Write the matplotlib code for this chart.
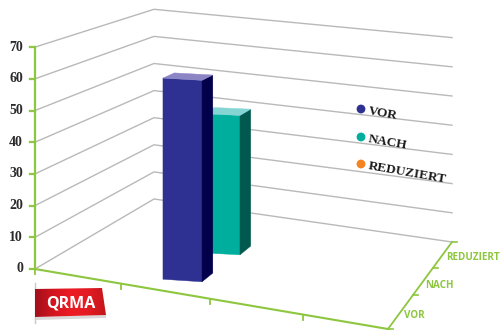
import numpy as np
import matplotlib
matplotlib.use("Agg")
import matplotlib.pyplot as plt
from matplotlib.colors import LinearSegmentedColormap
from matplotlib.patches import Polygon, Circle

# Datos del grafico
CATEGORIES = ["VOR", "NACH", "REDUZIERT"]
BAR_VALUES = [63, 46]
Y_TICKS = [0, 10, 20, 30, 40, 50, 60, 70]
BAR_COLORS = [("#2e3192", "#02004a", "#8c85c5"), ("#00ae9e", "#00594f", "#84d5d3")]
LEGEND_COLORS = ["#2e3192", "#00ae9e", "#f58220"]

GREEN = "#8dc63f"
GRID = "#b9b9b9"

# Esquinas del suelo en pixeles: frontal izq, frontal der, fondo der, fondo izq
FL, FR, BR, BL = map(np.array, [(35, 269), (388, 329), (452, 242), (154, 199)])
# Pixeles por unidad en cada esquina
SCALE_FL, SCALE_FR, SCALE_BR, SCALE_BL = 3.17, 3.42, 2.92, 2.71


def floor(u, v):
    front = FL + u * (FR - FL)
    back = BL + u * (BR - BL)
    return (1 - v) * front + v * back


def unit(u, v):
    front = SCALE_FL + u * (SCALE_FR - SCALE_FL)
    back = SCALE_BL + u * (SCALE_BR - SCALE_BL)
    return (1 - v) * front + v * back


def project(u, v, value):
    return floor(u, v) - np.array([0, value * unit(u, v)])


fig = plt.figure(figsize=(5, 3.3), dpi=100)
ax = fig.add_axes([0, 0, 1, 1])

# Cuadricula de las dos paredes
for t in Y_TICKS:
    pts = [project(0, 0, t), project(0, 1, t), project(1, 1, t)]
    ax.plot(*zip(*pts), color=GRID, lw=1.0, zorder=1, solid_joinstyle="miter")

# Ejes
ax.plot(*zip(project(0, 0, 0), project(0, 0, Y_TICKS[-1])), color=GREEN, lw=1.6, zorder=3)
ax.plot(*zip(FL, FR), color=GREEN, lw=1.5, zorder=3)
ax.plot(*zip(FR, BR), color=GREEN, lw=1.3, zorder=3)

for t in Y_TICKS:
    x, y = project(0, 0, t)
    ax.plot([x - 5, x], [y, y], color=GREEN, lw=1.6, zorder=3)
    ax.text(x - 12, y, str(t), ha="right", va="center", fontsize=10, fontweight="bold",
            family="Liberation Serif", color="#2b2b2b")

for u in [0, 0.243, 0.495, 0.76]:
    x, y = floor(u, 0)
    ax.plot([x, x], [y, y + 5], color=GREEN, lw=1.3, zorder=3)

for v in [0, 0.39, 0.70, 1]:
    x, y = floor(1, v)
    ax.plot([x, x + 5], [y, y], color=GREEN, lw=1.2, zorder=3)

for i, label in enumerate(CATEGORIES):
    x2, y2 = floor(1, (i + 0.5) / 3)
    ax.text(x2 + 5, y2 + 0.5, label, ha="left", va="center", fontsize=7.1, fontweight="bold",
            family="Open Sans", color=GREEN)

# Barras, de atras hacia delante
ROW_STEP = 0.357
for i in reversed(range(len(BAR_VALUES))):
    value = BAR_VALUES[i]
    front, side, top = BAR_COLORS[i]
    ur = 0.428 + 0.012 * i
    vr = 0.167 + ROW_STEP * i
    ul = ur - 0.101
    vl = vr - 0.043
    depth = 0.113

    fl0, fl1 = project(ul, vl, 0), project(ul, vl, value)
    fr0, fr1 = project(ur, vr, 0), project(ur, vr, value)
    br0, br1 = project(ur, vr + depth, 0), project(ur, vr + depth, value)
    bl1 = project(ul, vl + depth, value)

    ax.add_patch(Polygon([fl0, fr0, fr1, fl1], closed=True, fc=front, ec=front, lw=0.3, zorder=5))
    ax.add_patch(Polygon([fr0, br0, br1, fr1], closed=True, fc=side, ec=side, lw=0.3, zorder=5))
    ax.add_patch(Polygon([fl1, fr1, br1, bl1], closed=True, fc=top, ec=top, lw=0.3, zorder=5))

# Leyenda
LEGEND_Y = [109, 137, 164]
for label, color, y in zip(CATEGORIES, LEGEND_COLORS, LEGEND_Y):
    ax.add_patch(Circle((361, y), 4.4, fc=color, ec="none", zorder=6))
    ax.text(369, y - 3.5, label, rotation=-10, rotation_mode="anchor", ha="left", va="top",
            fontsize=9.6, fontweight="bold", family="Liberation Serif", color="#1a1a1a", zorder=6)

# Etiqueta QRMA con pliegue y sombra
ax.plot([35, 35], [283, 323], color="#c8c8c8", lw=1.0, zorder=6)
ax.add_patch(Polygon([(36, 317), (106, 315), (106, 318), (36, 320)], closed=True,
                     fc="#d9d9d9", ec="none", zorder=6))
badge = Polygon([(35, 289), (102, 288), (106, 315), (35, 317)], closed=True, fc="none", ec="none", zorder=7)
ax.add_patch(badge)
shade = np.linspace(0, 1, 60).reshape(1, -1)
cmap = LinearSegmentedColormap.from_list("rojo", ["#a3101b", "#d2151f", "#ed1c24", "#e31b23", "#c4161c"])
img = ax.imshow(shade, extent=(35, 106, 317, 288), cmap=cmap, aspect="auto", zorder=7)
img.set_clip_path(badge)
ax.text(71, 303, "QRMA", ha="center", va="center", fontsize=11.5, fontweight="bold",
        family="Open Sans", color="white", zorder=8)

ax.set_xlim(0, 500)
ax.set_ylim(330, 0)
ax.axis("off")

fig.savefig("out.png", dpi=100)
